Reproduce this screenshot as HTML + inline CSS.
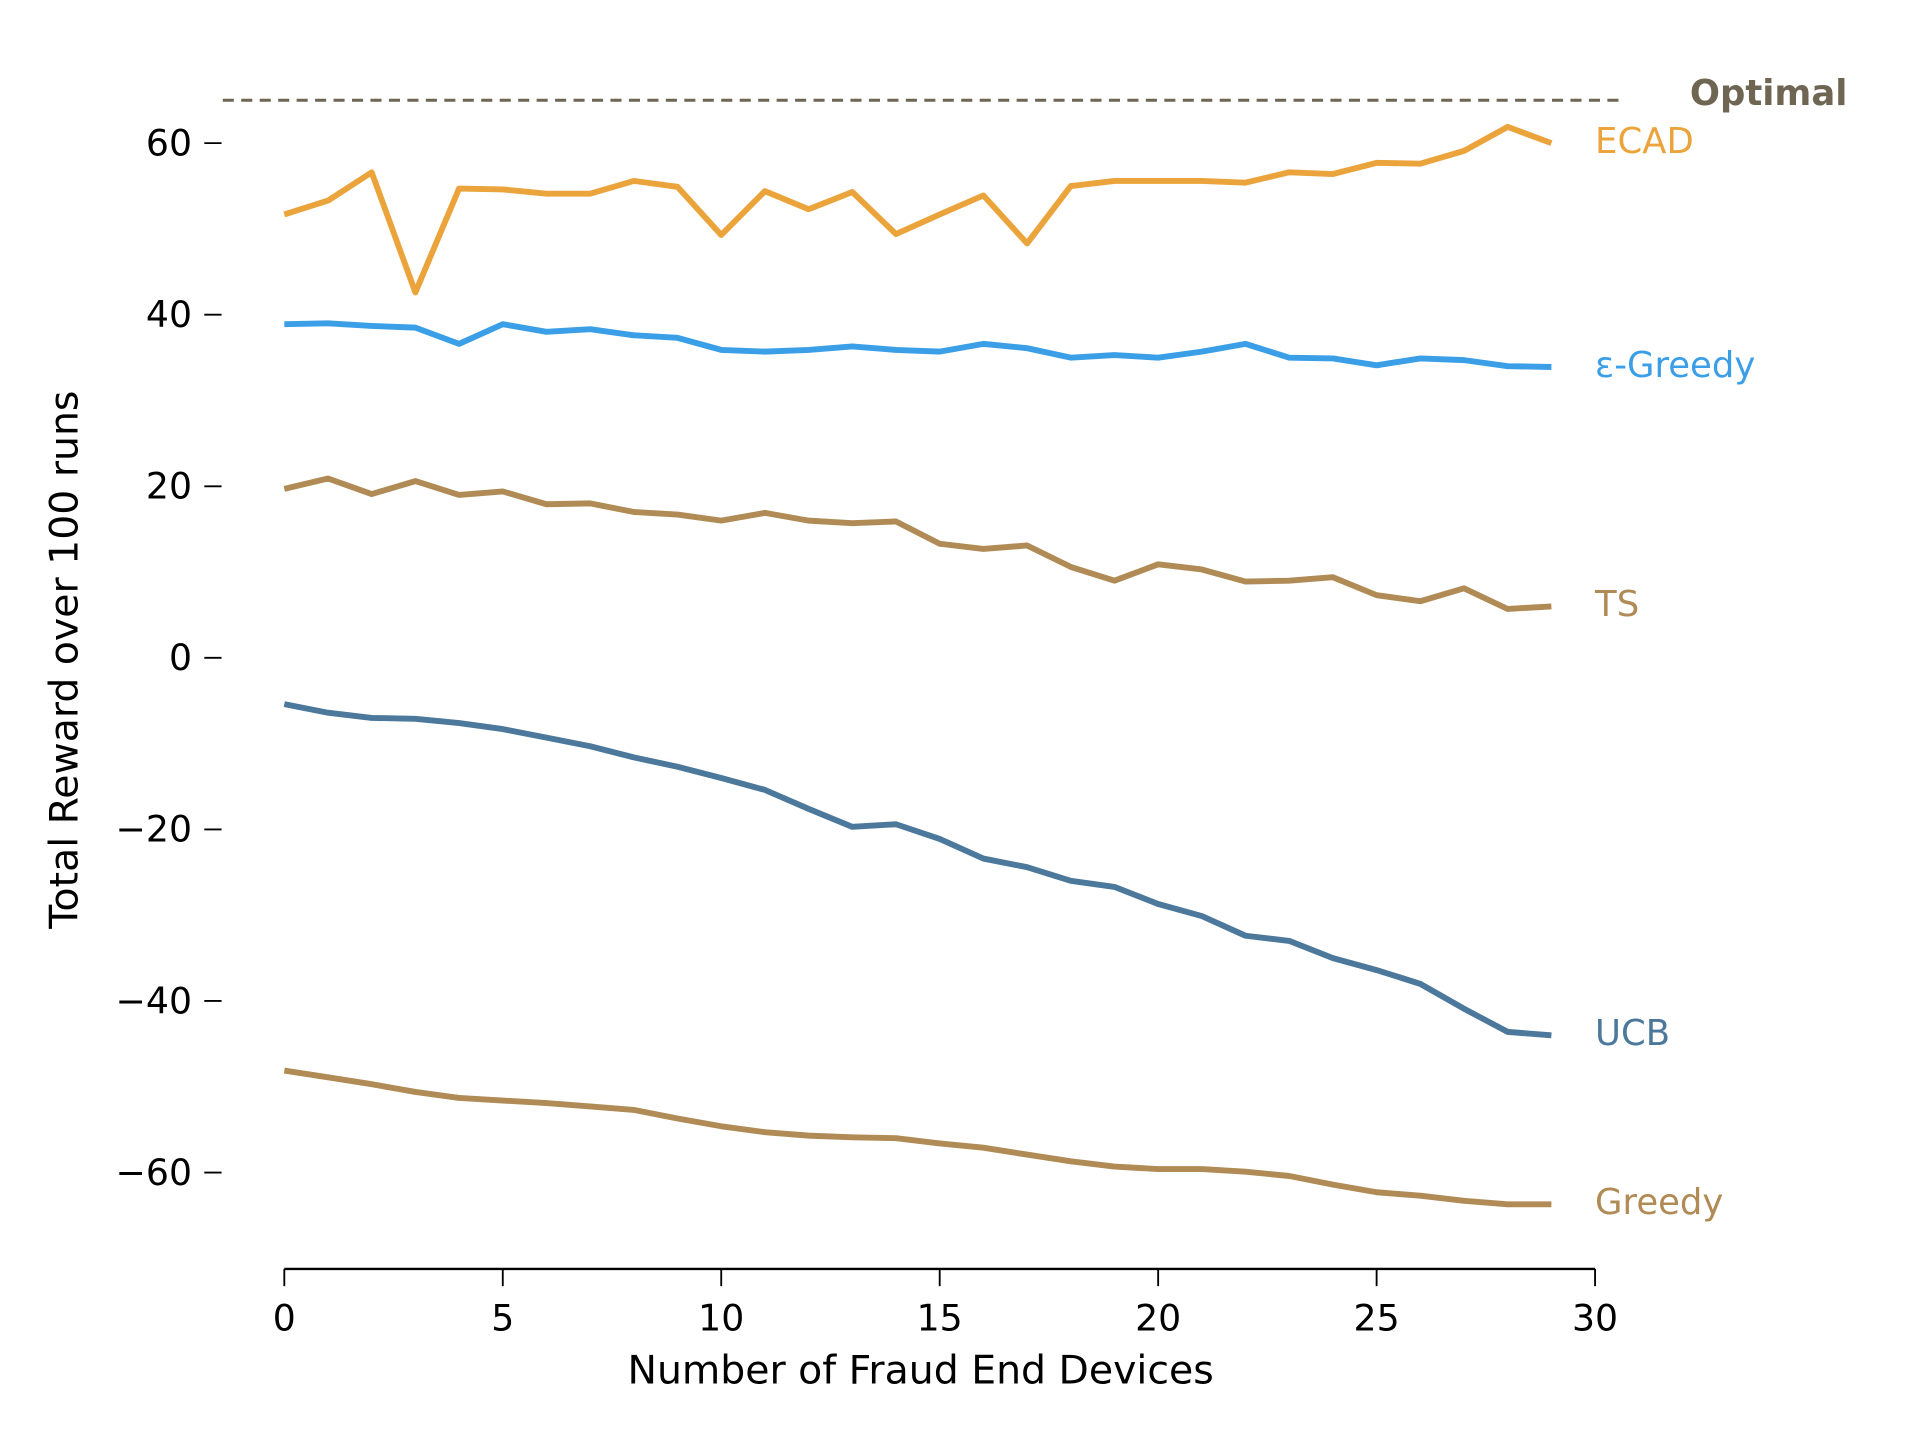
<!DOCTYPE html>
<html><head><meta charset="utf-8"><style>
html,body{margin:0;padding:0;background:#fff;}
svg{display:block;font-family:"DejaVu Sans","Liberation Sans",sans-serif;}
</style></head><body>
<svg id="chart" width="1920" height="1440" viewBox="0 0 1560 1170" xmlns="http://www.w3.org/2000/svg">
<g id="axes"></g>
<g id="series"></g>
</svg>
<script>
const xValues = [0,1,2,3,4,5,6,7,8,9,10,11,12,13,14,15,16,17,18,19,20,21,22,23,24,25,26,27,28,29];
const ecad = [51.7,53.3,56.6,42.6,54.7,54.6,54.1,54.1,55.6,54.9,49.3,54.4,52.3,54.3,49.4,51.7,53.9,48.3,55,55.6,55.6,55.6,55.4,56.6,56.4,57.7,57.6,59.1,61.9,60];
const epsGreedy = [38.9,39,38.7,38.5,36.6,38.9,38,38.3,37.6,37.3,35.9,35.7,35.9,36.3,35.9,35.7,36.6,36.1,35,35.3,35,35.7,36.6,35,34.9,34.1,34.9,34.7,34,33.9];
const ts = [19.7,20.9,19.1,20.6,19,19.4,17.9,18,17,16.7,16,16.9,16,15.7,15.9,13.3,12.7,13.1,10.6,9,10.9,10.3,8.9,9,9.4,7.3,6.6,8.1,5.7,6];
const ucb = [-5.4,-6.4,-7,-7.1,-7.6,-8.3,-9.3,-10.3,-11.6,-12.7,-14,-15.4,-17.6,-19.7,-19.4,-21.1,-23.4,-24.4,-26,-26.7,-28.7,-30.1,-32.4,-33,-35,-36.4,-38,-40.9,-43.6,-44];
const greedy = [-48.1,-48.9,-49.7,-50.6,-51.3,-51.6,-51.9,-52.3,-52.7,-53.7,-54.6,-55.3,-55.7,-55.9,-56,-56.6,-57.1,-57.9,-58.7,-59.3,-59.6,-59.6,-59.9,-60.4,-61.4,-62.3,-62.7,-63.3,-63.7,-63.7];
const optimalValue = 65;
const xTicks = [0,5,10,15,20,25,30];
const yTicks = [60,40,20,0,-20,-40,-60];
const seriesNames = ["ECAD","ε-Greedy","TS","UCB","Greedy"];

const NS="http://www.w3.org/2000/svg";
const xs = v => 231 + (v/30)*1065;
const ys = v => 534.5 - v*6.97;
const FS = 32;
function mk(tag, attrs, parent, text){
  const e=document.createElementNS(NS,tag);
  for(const k in attrs) e.setAttribute(k,attrs[k]);
  if(text!==undefined) e.textContent=text;
  parent.appendChild(e); return e;
}
const axes=document.getElementById('axes');
const sg=document.getElementById('series');

let sp=mk('line',{x1:xs(0),x2:xs(30),y1:1031,y2:1031,stroke:'#000','stroke-width':2},axes);


xTicks.forEach(t=>{
  const l=mk('line',{x1:xs(t),x2:xs(t),y1:1031,y2:1045,stroke:'#000','stroke-width':1.5},axes);
  
  
  const tx=mk('text',{x:xs(t),y:1081,'text-anchor':'middle','font-size':FS*0.92,fill:'#000'},axes,String(t));
  
  
});
yTicks.forEach(t=>{
  const l=mk('line',{x1:166,x2:180,y1:ys(t),y2:ys(t),stroke:'#000','stroke-width':1.5},axes);
  
  
  const tx=mk('text',{x:156,y:ys(t)+10,'text-anchor':'end','font-size':FS*0.92,fill:'#000'},axes,t<0?'\u2212'+Math.abs(t):String(t));
  
  
});
let xt=mk('text',{x:748,y:1124,'text-anchor':'middle','font-size':FS,fill:'#000'},axes,'Number of Fraud End Devices');


let yt=mk('text',{x:0,y:0,'text-anchor':'middle','font-size':FS,fill:'#000',transform:'translate(63,536) rotate(-90)'},axes,'Total Reward over 100 runs');



let opt=mk('line',{x1:181,x2:1318,y1:ys(optimalValue),y2:ys(optimalValue),stroke:'#6f6553','stroke-width':2.5,'stroke-dasharray':'9,6'},sg);


let ol=mk('text',{x:1373,y:ys(optimalValue)+4,'font-size':FS*0.9,'font-weight':'bold',fill:'#6f6553'},sg,'Optimal');



const all=[ecad,epsGreedy,ts,ucb,greedy];
const colors=['#eba43c','#3b9fe8','#b08b55','#4b789b','#b08b55'];
const keys=['ecad','eps-greedy','ts','ucb','greedy'];
all.forEach((d,i)=>{
  const pts=d.map((v,j)=>xs(xValues[j]).toFixed(1)+','+ys(v).toFixed(1)).join(' ');
  const p=mk('polyline',{points:pts,fill:'none',stroke:colors[i],'stroke-width':4.8,'stroke-linejoin':'round'},sg);
  
  
  const last=d[d.length-1];
  const lb=mk('text',{x:1296,y:ys(last)+8,'font-size':FS*0.9,fill:colors[i]},sg,seriesNames[i]);
  
  
});
</script>
</body></html>
